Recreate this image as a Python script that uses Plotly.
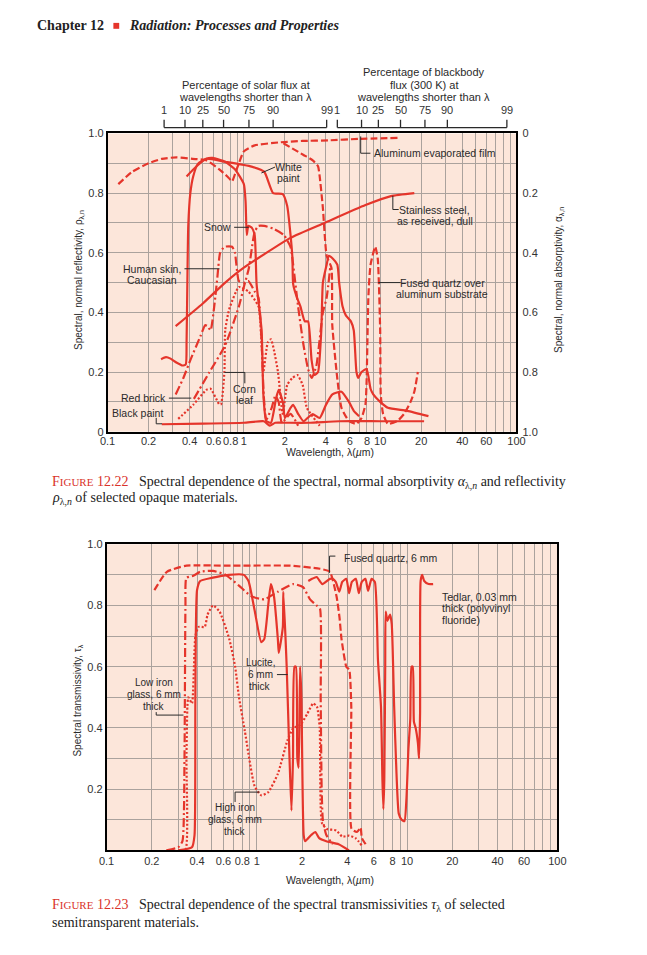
import math
import plotly.graph_objects as go

W, H = 647, 955
OFF = 8  # default page margin of the html body
RED = "#E5352B"
INK = "#2a2a2a"
GRID = "#AAA29D"
BG = "#FCE6DA"
SANS = "Liberation Sans Narrow, Liberation Sans, Arial, sans-serif"
TICKSANS = "Liberation Sans, Arial, sans-serif"
SERIF = "Liberation Serif, DejaVu Serif, serif"

# ------------------------------------------------------------------ data
wl_labels = ["0.1", "0.2", "0.4", "0.6", "0.8", "1", "2", "4", "6", "8",
             "10", "20", "40", "60", "100"]
y_labels = ["0", "0.2", "0.4", "0.6", "0.8", "1.0"]

pct_labels = ["1", "10", "25", "50", "75", "90", "99"]
solar_wl = [0.26, 0.37, 0.50, 0.71, 1.09, 1.64, 4.05]
bb300_wl = [4.85, 7.3, 9.7, 14.1, 21.3, 31.1, 85.0]

# ---- Fig 12.22 : spectral normal reflectivity
alum_wl = [0.12, 0.15, 0.2, 0.25, 0.32, 0.42, 0.53, 0.66, 0.76, 0.82, 0.87, 0.92, 1.0, 1.2, 1.8, 2.7, 4.2, 7.0, 13.4]
alum_rho = [0.83, 0.87, 0.90, 0.915, 0.92, 0.915, 0.91, 0.88, 0.855, 0.84, 0.87, 0.90, 0.94, 0.96, 0.97, 0.975, 0.977, 0.982, 0.985]

paint_wl = [0.247, 0.268, 0.29, 0.32, 0.355, 0.375, 0.38, 0.385, 0.391, 0.405, 0.425, 0.46, 0.53, 0.73, 1.14, 1.41,
            1.64, 1.93, 2.08, 2.2, 2.27, 2.3, 2.45, 2.6, 2.8, 2.96, 3.14, 3.3, 3.5, 3.7, 3.8, 4.05, 4.2, 4.5,
            4.85, 5.0, 5.3, 5.6, 6.1, 6.4, 6.7, 6.9, 7.3, 7.95, 8.5, 8.9, 10.0, 11.4, 15.8, 22.6]
paint_rho = [0.243, 0.25, 0.245, 0.232, 0.222, 0.226, 0.30, 0.495, 0.69, 0.80, 0.856, 0.898, 0.915, 0.905, 0.889, 0.872,
             0.80, 0.797, 0.757, 0.66, 0.584, 0.495, 0.45, 0.42, 0.37, 0.37, 0.24, 0.19, 0.20, 0.34, 0.50, 0.56, 0.59, 0.58,
             0.56, 0.50, 0.42, 0.39, 0.37, 0.34, 0.20, 0.18, 0.20, 0.21, 0.144, 0.125, 0.10, 0.08, 0.07, 0.052]

snow_wl = [0.38, 0.45, 0.53, 0.59, 0.73, 0.86, 1.0, 1.03, 1.05, 1.08, 1.14, 1.2, 1.24, 1.35, 1.39, 1.46, 1.58, 1.72,
           1.8, 1.93, 2.0, 2.2, 2.3, 2.5, 2.74, 3.0, 3.2, 3.6, 4.0, 4.46, 5.2, 5.9, 6.4, 7.0]
snow_rho = [0.856, 0.89, 0.915, 0.918, 0.905, 0.88, 0.83, 0.77, 0.66, 0.69, 0.685, 0.66, 0.495, 0.34, 0.125, 0.036, 0.03,
            0.11, 0.14, 0.10, 0.046, 0.08, 0.09, 0.06, 0.035, 0.05, 0.059, 0.046, 0.09, 0.125, 0.134, 0.10, 0.07, 0.052]

skin_wl = [0.316, 0.36, 0.405, 0.48, 0.52, 0.54, 0.57, 0.61, 0.64, 0.67, 0.72, 0.82, 0.86, 0.92, 1.0, 1.08, 1.2,
           1.28, 1.35, 1.40, 1.46, 1.6, 1.7, 1.8, 1.9, 2.2, 2.5]
skin_rho = [0.125, 0.18, 0.24, 0.32, 0.357, 0.354, 0.34, 0.43, 0.52, 0.60, 0.62, 0.62, 0.60, 0.505, 0.50, 0.505, 0.47,
            0.45, 0.30, 0.12, 0.04, 0.08, 0.12, 0.10, 0.03, 0.06, 0.02]

brick_wl = [0.43, 0.56, 0.73, 0.92, 1.0, 1.09, 1.2, 1.28, 1.41, 1.66, 1.96, 2.2, 2.3, 2.5, 2.74, 2.96, 3.15, 3.4, 3.6,
            3.8, 4.05, 4.3]
brick_rho = [0.11, 0.20, 0.29, 0.42, 0.485, 0.55, 0.67, 0.69, 0.69, 0.68, 0.66, 0.62, 0.56, 0.42, 0.29, 0.21, 0.18, 0.22,
             0.31, 0.40, 0.45, 0.55]

black_wl = [0.25, 0.5, 1.0, 1.4, 1.55, 1.7, 2.0, 3.0, 5.0, 10.0, 21.0]
black_rho = [0.025, 0.027, 0.03, 0.035, 0.02, 0.03, 0.03, 0.03, 0.035, 0.035, 0.035]

corn_wl = [0.33, 0.425, 0.53, 0.57, 0.66, 0.68, 0.72, 0.73, 0.78, 0.92, 1.08, 1.28, 1.35, 1.39, 1.5, 1.58, 1.66, 1.78,
           1.93, 2.08, 2.27, 2.47, 2.7, 2.9, 3.6]
corn_rho = [0.043, 0.09, 0.14, 0.144, 0.092, 0.092, 0.20, 0.34, 0.41, 0.485, 0.47, 0.42, 0.29, 0.20, 0.30, 0.31, 0.275,
            0.20, 0.06, 0.157, 0.18, 0.19, 0.157, 0.08, 0.02]

steel_wl = [0.316, 0.5, 0.73, 1.0, 2.2, 3.9, 7.8, 12.0, 17.8]
steel_rho = [0.354, 0.43, 0.50, 0.55, 0.65, 0.70, 0.76, 0.79, 0.80]

quartz_al_wl = [1.95, 2.74, 3.2, 3.5, 3.6, 3.8, 4.05, 4.39, 4.45, 4.85, 5.2, 5.9, 6.7, 7.3, 7.8, 7.95, 8.2, 8.5, 9.2,
                9.6, 10.0, 10.1, 10.5, 11.4, 13.4, 15.0, 16.7, 17.8, 18.9]
quartz_al_rho = [0.967, 0.928, 0.91, 0.89, 0.856, 0.75, 0.59, 0.55, 0.36, 0.177, 0.08, 0.036, 0.026, 0.046, 0.092,
                 0.167, 0.456, 0.56, 0.62, 0.58, 0.34, 0.125, 0.06, 0.026, 0.036, 0.06, 0.10, 0.134, 0.20]

# ---- Fig 12.23 : spectral transmissivity
fq_wl = [0.208, 0.252, 0.34, 0.62, 1.67, 2.63, 3.06, 3.39, 3.55, 3.66, 3.94, 4.12, 4.25, 4.27, 4.64, 4.9, 5.0, 5.3]
fq_tau = [0.85, 0.91, 0.93, 0.93, 0.93, 0.92, 0.91, 0.83, 0.76, 0.69, 0.60, 0.59, 0.47, 0.07, 0.06, 0.074, 0.04, 0.02]

lowfe_wl = [0.25, 0.30, 0.32, 0.33, 0.335, 0.34, 0.378, 0.42, 0.51, 0.62, 0.76, 0.92, 1.12, 1.38, 1.75, 2.03, 2.26,
            2.5, 2.63, 2.66, 2.7, 2.75, 2.9, 3.2]
lowfe_tau = [0.0, 0.01, 0.03, 0.30, 0.80, 0.89, 0.897, 0.91, 0.913, 0.90, 0.865, 0.83, 0.82, 0.845, 0.87, 0.86, 0.82,
             0.80, 0.79, 0.50, 0.20, 0.10, 0.05, 0.02]

hife_wl = [0.30, 0.335, 0.34, 0.345, 0.35, 0.37, 0.39, 0.41, 0.45, 0.47, 0.51, 0.565, 0.656, 0.717, 0.761, 0.832, 0.966,
           1.07, 1.19, 1.38, 1.60, 1.75, 1.95, 2.16, 2.37, 2.51, 2.62, 2.71, 2.92, 3.38, 3.70, 4.11, 4.56, 4.99]
hife_tau = [0.0, 0.0, 0.30, 0.47, 0.50, 0.48, 0.70, 0.73, 0.73, 0.77, 0.80, 0.78, 0.69, 0.60, 0.50, 0.39, 0.21, 0.18,
            0.19, 0.25, 0.36, 0.40, 0.41, 0.445, 0.48, 0.47, 0.40, 0.09, 0.07, 0.065, 0.045, 0.048, 0.039, 0.016]

lucite_wl = [0.30, 0.37, 0.385, 0.39, 0.40, 0.42, 0.5, 0.65, 0.82, 0.88, 0.97, 1.07, 1.12, 1.19, 1.24, 1.30, 1.38, 1.40,
             1.49, 1.50, 1.58, 1.65, 1.70, 1.74, 1.78, 1.82, 1.86, 1.90, 1.94, 1.98, 2.05, 2.1, 2.2, 2.3, 2.45, 2.6,
             2.9, 3.5, 4.1]
lucite_tau = [0.0, 0.01, 0.05, 0.5, 0.85, 0.88, 0.89, 0.90, 0.90, 0.88, 0.78, 0.68, 0.69, 0.80, 0.87, 0.83, 0.69, 0.645,
              0.73, 0.845, 0.60, 0.30, 0.13, 0.30, 0.60, 0.60, 0.30, 0.27, 0.60, 0.50, 0.05, 0.03, 0.04, 0.05, 0.06,
              0.04, 0.03, 0.02, 0.0]

tedlar_wl = [2.2, 2.33, 2.5, 2.73, 3.06, 3.19, 3.35, 3.54, 3.7, 3.94, 4.11, 4.29, 4.56, 4.77, 4.99, 5.28, 5.5, 5.8, 6.1,
             6.4, 6.7, 6.85, 6.95, 7.05, 7.15, 7.2, 7.4, 7.7, 7.9, 8.2, 8.5, 8.8, 9.2, 9.6, 9.9, 10.2, 10.5, 10.7,
             10.9, 11.1, 11.4, 11.8, 12.0, 12.2, 12.3, 12.6, 13.0, 13.9, 14.9]
tedlar_tau = [0.88, 0.887, 0.893, 0.87, 0.887, 0.887, 0.877, 0.845, 0.877, 0.887, 0.84, 0.877, 0.887, 0.84, 0.877, 0.887,
              0.848, 0.887, 0.877, 0.62, 0.47, 0.23, 0.135, 0.23, 0.60, 0.78, 0.75, 0.77, 0.74, 0.47, 0.25, 0.12, 0.10,
              0.095, 0.17, 0.33, 0.43, 0.60, 0.60, 0.42, 0.40, 0.35, 0.30, 0.45, 0.88, 0.90, 0.88, 0.87, 0.87]


# ------------------------------------------------------------------ helpers
def px(x):
    return (x - OFF) / W


def py(y):
    return 1 - (y - OFF) / H


SOLID = dict(color=RED, width=2.2)
DASH = dict(color=RED, width=2.2, dash="7px,3px")
DASHDOT = dict(color=RED, width=2.2, dash="9px,3px,2px,3px")
DOT = dict(color=RED, width=2.2, dash="2px,2px")

fig = go.Figure()


def curve(x, y, line, xa="x", ya="y", shape="spline"):
    fig.add_trace(go.Scatter(x=x, y=y, mode="lines", line=dict(shape=shape, smoothing=0.5, **line),
                             xaxis=xa, yaxis=ya, hoverinfo="skip", showlegend=False))


# top chart
curve(black_wl, black_rho, SOLID)
curve(steel_wl, steel_rho, SOLID)
curve(alum_wl, alum_rho, DASH)
curve(quartz_al_wl, quartz_al_rho, DASH)
curve(paint_wl, paint_rho, SOLID)
curve(snow_wl, snow_rho, SOLID)
curve(skin_wl, skin_rho, DASHDOT)
curve(brick_wl, brick_rho, DASHDOT)
curve(corn_wl, corn_rho, DOT)
# absorptivity axis (alpha = 1 - rho) needs a trace to be drawn
fig.add_trace(go.Scatter(x=[steel_wl[0]], y=[1 - steel_rho[0]], mode="markers", marker=dict(opacity=0),
                         xaxis="x", yaxis="y2", hoverinfo="skip", showlegend=False))

# bottom chart
curve(fq_wl, fq_tau, DASH, "x2", "y3")
curve(lowfe_wl, lowfe_tau, DASHDOT, "x2", "y3")
curve(hife_wl, hife_tau, DOT, "x2", "y3")
curve(lucite_wl, lucite_tau, SOLID, "x2", "y3")
curve(tedlar_wl, tedlar_tau, SOLID, "x2", "y3")

# ------------------------------------------------------------------ axes
grid_x = [round(m * 10 ** e, 4) for e in (-1, 0, 1) for m in range(1, 10)] + [100]
major_x = [float(s) for s in wl_labels]
minor_x = [v for v in grid_x if v not in major_x]
major_y = [float(s) for s in y_labels]
minor_y = [0.1, 0.3, 0.5, 0.7, 0.9]
tickfont = dict(family=TICKSANS, size=11, color="#333")
minor_grid = dict(showgrid=True, gridcolor=GRID, gridwidth=1, ticks="")

common_x = dict(type="log", range=[-1, 2], tickvals=major_x, ticktext=wl_labels, showgrid=True, gridcolor=GRID,
                gridwidth=1, showline=True, linecolor="black", linewidth=1.5, mirror=True, ticks="", ticklen=0,
                tickangle=0, tickfont=tickfont, zeroline=False, fixedrange=True,
                minor=dict(tickvals=minor_x, **minor_grid))
common_y = dict(range=[0, 1], showgrid=True, gridcolor=GRID, gridwidth=1, showline=True,
                linecolor="black", linewidth=1.5, mirror=True, ticks="", ticklen=0, tickfont=tickfont,
                zeroline=False, minor=dict(tickvals=minor_y, **minor_grid))

TOP = (129, 431)
BOT = (545, 855)

fig.update_layout(
    width=W, height=H, margin=dict(l=0, r=0, t=0, b=0), autosize=False,
    paper_bgcolor="white", plot_bgcolor=BG, showlegend=False,
    xaxis=dict(domain=[px(102), px(522)], anchor="y", ticklabelstandoff=-2, **common_x),
    yaxis=dict(domain=[py(TOP[1]), py(TOP[0])], anchor="x", tickvals=major_y, ticktext=y_labels, **common_y),
    yaxis2=dict(overlaying="y", side="right", anchor="x", range=[1, 0], tickvals=major_y,
                ticktext=y_labels, showgrid=False, ticks="", ticklen=0, ticklabelstandoff=5,
                tickfont=tickfont, zeroline=False, showline=False),
    xaxis2=dict(domain=[px(101), px(564)], anchor="y3", ticklabelstandoff=0, **common_x),
    yaxis3=dict(domain=[py(BOT[1]), py(BOT[0])], anchor="x2", tickvals=major_y[1:], ticktext=y_labels[1:],
                **common_y),
)

# ------------------------------------------------------------------ text & leaders
ann = []
shapes = []


def text(x, y, s, size=10.5, xanchor="center", align="center", font=SANS, color=INK, angle=0):
    ann.append(dict(x=px(x), y=py(y), xref="paper", yref="paper", text=s, showarrow=False, xanchor=xanchor,
                    yanchor="middle", align=align, textangle=angle,
                    font=dict(family=font, size=size, color=color)))


def lines(x, ys, rows, **kw):
    for y, s in zip(ys, rows):
        text(x, y, s, **kw)


def leader(pts, width=1):
    d = "M " + " L ".join(f"{px(a)},{py(b)}" for a, b in pts)
    shapes.append(dict(type="path", path=d, xref="paper", yref="paper", line=dict(color=INK, width=width)))


# header
text(28, 20, "<b>Chapter 12</b>", size=14, xanchor="left", font=SERIF, color="#222")
shapes.append(dict(type="rect", xref="paper", yref="paper", x0=px(108), x1=px(114), y0=py(23), y1=py(17),
                   fillcolor=RED, line=dict(width=0)))
text(122, 20, "<b><i>Radiation: Processes and Properties</i></b>", size=14, xanchor="left", font=SERIF,
     color="#222")

# percentage scales (top): shapes take wavelengths, annotations take log10(wavelength)
for wls in (solar_wl, bb300_wl):
    shapes.append(dict(type="line", xref="x", yref="paper", x0=wls[0], x1=wls[-1], y0=py(123), y1=py(123),
                       line=dict(color=INK, width=1.3)))
    for w, lab in zip(wls, pct_labels):
        shapes.append(dict(type="line", xref="x", yref="paper", x0=w, x1=w, y0=py(123), y1=py(115),
                           line=dict(color=INK, width=1.3)))
        ann.append(dict(x=math.log10(w), y=py(105), xref="x", yref="paper", text=lab, showarrow=False,
                        xanchor="center", yanchor="middle",
                        font=dict(family=TICKSANS, size=11, color="#333")))
lines(244, [80, 92], ["Percentage of solar flux at", "wavelengths shorter than λ"], size=11)
lines(427, [67, 80, 92], ["Percentage of blackbody", "flux (300 K) at", "wavelengths shorter than λ"], size=11)

# axis titles
text(72, 277, "Spectral, normal reflectivity, ρ<sub>λ,n</sub>", size=10, angle=-90)
text(565, 277, "Spectral, normal absorptivity, α<sub>λ,n</sub>", size=10, angle=-90)
text(330, 452, "Wavelength, λ(<i>µ</i>m)", size=10.5)
text(72, 703, "Spectral transmissivity, τ<sub>λ</sub>", size=10, angle=-90)
text(330, 885, "Wavelength, λ(<i>µ</i>m)", size=10.5)

# labels fig 12.22
text(374, 149, "Aluminum evaporated film", xanchor="left")
leader([(362, 132), (362, 149), (372, 149)])
lines(288, [163, 174], ["White", "paint"])
leader([(260, 169), (274, 163)])
lines(438, [207, 218], ["Stainless steel,", "as received, dull"])
leader([(395, 192), (395, 206), (401, 206)])
lines(446, [280, 292], ["Fused quartz over", "aluminum substrate"])
leader([(380, 280), (403, 280)])
text(231, 224, "Snow", xanchor="right")
leader([(232, 224), (247, 224)])
lines(148, [266, 277], ["Human skin,", "Caucasian"])
leader([(181, 266), (217, 266)])
lines(243, [388, 399], ["Corn", "leaf"])
leader([(222, 371), (243, 371), (243, 382)])
text(164, 397, "Red brick", xanchor="right")
leader([(165, 397), (188, 397)])
text(133, 412, "Black paint")
leader([(152, 417), (152, 423), (158, 423)])

# labels fig 12.23
text(343, 559, "Fused quartz, 6 mm", xanchor="left")
leader([(330, 574), (330, 557), (336, 557)])
lines(443, [598, 610, 622], ["Tedlar, 0.03 mm", "thick (polyvinyl", "fluoride)"], xanchor="left")
lines(259, [665, 677, 689], ["Lucite,", "6 mm", "thick"], size=10)
leader([(276, 677), (287, 677)])
lines(150, [685, 697, 709], ["Low iron", "glass, 6 mm", "thick"], size=10)
leader([(152, 715), (152, 718), (180, 718)])
lines(233, [812, 824, 836], ["High iron", "glass, 6 mm", "thick"], size=10)
leader([(233, 806), (233, 796), (258, 796)])

# captions
FIG = "<span style='color:#D9322A'>F<span style='font-size:11px'>IGURE</span> 12.2{}</span>"
text(43, 482, FIG.format(2) + "&nbsp;&nbsp;&nbsp;Spectral dependence of the spectral, normal absorptivity "
     "<i>α</i><sub>λ,<i>n</i></sub> and reflectivity", size=14, xanchor="left", font=SERIF, color="#222")
text(43, 499, "<i>ρ</i><sub>λ,<i>n</i></sub> of selected opaque materials.", size=14, xanchor="left",
     font=SERIF, color="#222")
text(43, 911, FIG.format(3) + "&nbsp;&nbsp;&nbsp;Spectral dependence of the spectral transmissivities "
     "<i>τ</i><sub>λ</sub> of selected", size=14, xanchor="left", font=SERIF, color="#222")
text(43, 928, "semitransparent materials.", size=14, xanchor="left", font=SERIF, color="#222")

fig.update_layout(annotations=ann, shapes=shapes)
fig.write_html("out.html")
